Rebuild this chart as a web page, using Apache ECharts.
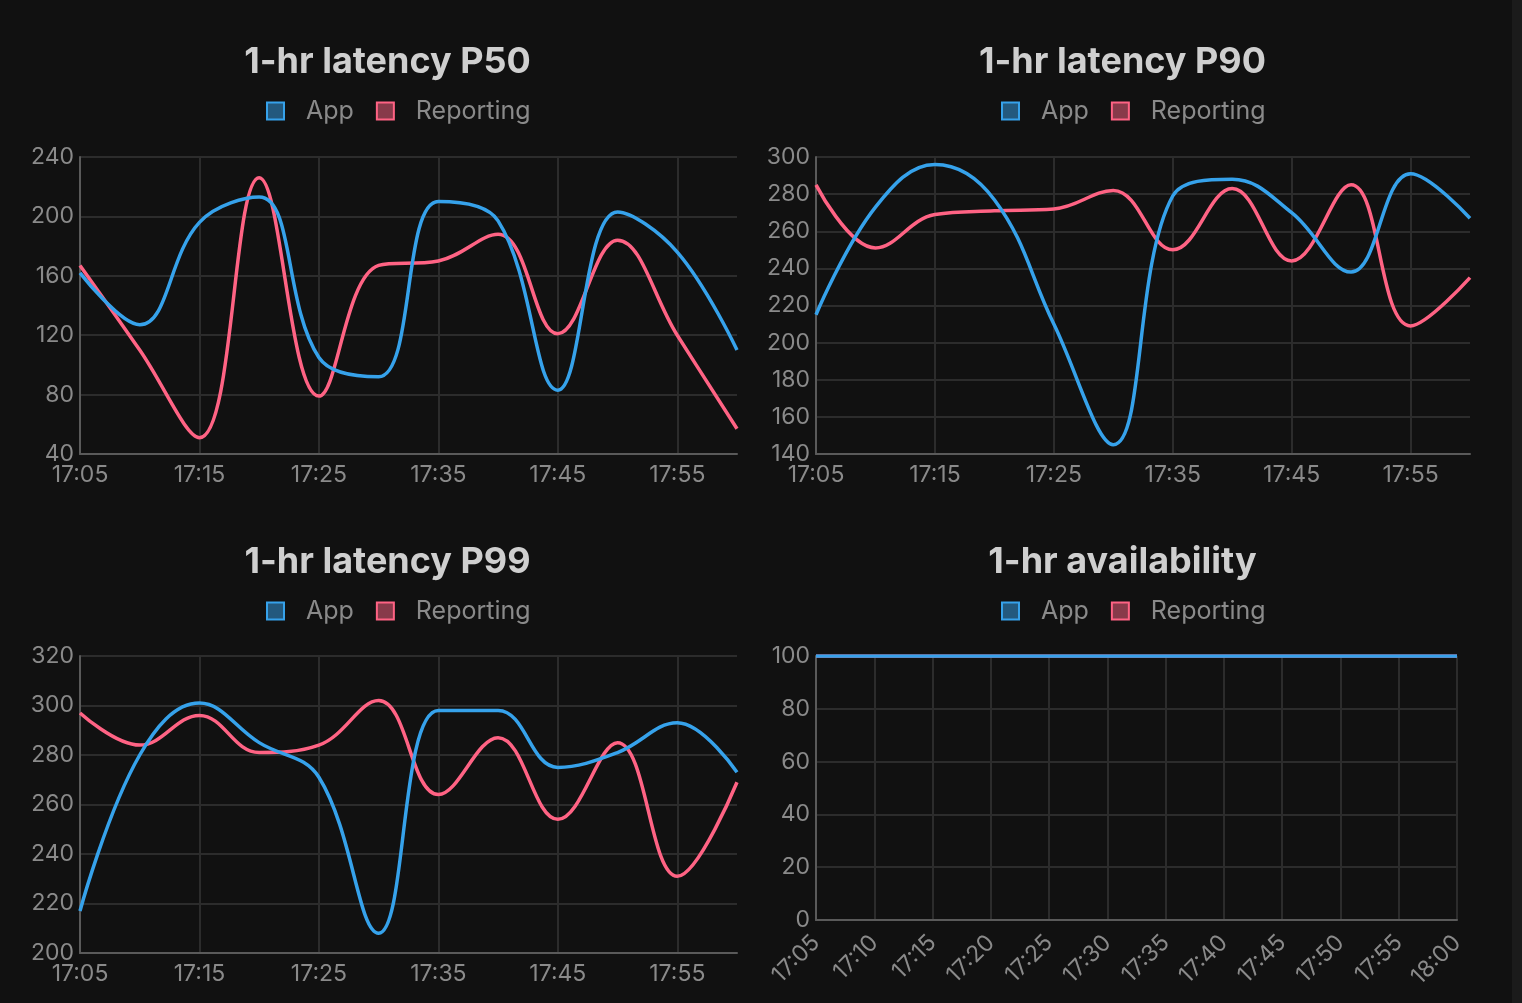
<!DOCTYPE html>
<html>
<head>
<meta charset="utf-8">
<title>Latency dashboard</title>
<script src="https://cdn.jsdelivr.net/npm/echarts@6/dist/echarts.min.js"></script>
<style>
  html, body { margin: 0; padding: 0; background: #111111; width: 1522px; height: 1003px; overflow: hidden; }
  .panel { position: absolute; width: 735px; height: 500px; }
  #scroll { position: absolute; left: 1512px; top: 0; width: 10px; height: 1003px; background: #1b1b1b; }
</style>
</head>
<body>
<div class="panel" id="p50" style="left:20px;top:0px"></div>
<div class="panel" id="p90" style="left:755px;top:0px"></div>
<div class="panel" id="p99" style="left:20px;top:500px"></div>
<div class="panel" id="avail" style="left:755px;top:500px"></div>
<div id="scroll"></div>
<script>
var times = ['17:05', '17:10', '17:15', '17:20', '17:25', '17:30',
  '17:35', '17:40', '17:45', '17:50', '17:55', '18:00'];

var p50App = [162, 127, 196, 213, 105, 92, 210, 197, 83, 203, 176, 110];
var p50Reporting = [167, 110, 51, 226, 79, 167, 170, 188, 121, 184, 120, 57];

var p90App = [215, 273, 296, 277, 210, 145, 279, 288, 270, 238, 291, 267];
var p90Reporting = [285, 251, 269, 271, 272, 282, 250, 283, 244, 285, 209, 235];

var p99App = [217, 280, 301, 285, 271, 208, 298, 298, 275, 281, 293, 273];
var p99Reporting = [297, 284, 296, 281, 284, 302, 264, 287, 254, 285, 231, 269];

var availApp = [100, 100, 100, 100, 100, 100, 100, 100, 100, 100, 100, 100];
var availReporting = [100, 100, 100, 100, 100, 100, 100, 100, 100, 100, 100, 100];

var BLUE = '#36a2eb';
var PINK = '#ff6384';
var FONT = 'Inter, "Liberation Sans", sans-serif';

function makeChart(id, title, app, reporting, yMin, yMax, yStep, opts) {
  var chart = echarts.init(document.getElementById(id), null, { renderer: 'canvas' });
  var option = {
    backgroundColor: '#111111',
    animation: false,
    title: {
      text: title,
      left: 'center',
      top: opts.titleTop,
      padding: 0,
      textStyle: { color: '#cfcfcf', fontFamily: FONT, fontWeight: 'bold', fontSize: 36, lineHeight: 38 }
    },
    legend: {
      left: 246,
      top: opts.legendTop,
      padding: 0,
      icon: 'rect',
      itemWidth: 17,
      itemHeight: 17,
      itemGap: 22,
      textStyle: { color: '#8a8a8a', fontFamily: FONT, fontSize: 25, lineHeight: 26, padding: [0, 0, 0, 17] },
      data: [
        { name: 'App', itemStyle: { color: 'rgba(54,162,235,0.5)', borderColor: BLUE, borderWidth: 2 } },
        { name: 'Reporting', itemStyle: { color: 'rgba(255,99,132,0.5)', borderColor: PINK, borderWidth: 2 } }
      ]
    },
    grid: { left: opts.left, top: opts.top, width: opts.width, height: opts.height, containLabel: false },
    xAxis: {
      type: 'category',
      data: times,
      boundaryGap: false,
      axisLine: { lineStyle: { color: '#5a5a5a', width: 2 } },
      axisTick: { show: false },
      axisLabel: {
        interval: opts.labelInterval,
        rotate: opts.rotate,
        margin: opts.rotate ? 19 : 10,
        color: '#8a8a8a',
        fontFamily: FONT,
        fontSize: 23
      },
      splitLine: { show: true, interval: opts.labelInterval, lineStyle: { color: '#2c2c2c', width: 2 } }
    },
    yAxis: {
      type: 'value',
      min: yMin,
      max: yMax,
      interval: yStep,
      axisLine: { show: true, lineStyle: { color: '#5a5a5a', width: 2 } },
      axisTick: { show: false },
      axisLabel: { margin: 6, color: '#8a8a8a', fontFamily: FONT, fontSize: 23 },
      splitLine: { lineStyle: { color: '#2c2c2c', width: 2 } }
    },
    series: [
      {
        name: 'Reporting',
        type: 'line',
        data: reporting,
        smooth: 0.4,
        showSymbol: false,
        z: 2,
        itemStyle: { color: PINK },
        lineStyle: { color: PINK, width: 3.5 }
      },
      {
        name: 'App',
        type: 'line',
        data: app,
        smooth: 0.4,
        showSymbol: false,
        z: opts.appZ,
        itemStyle: { color: BLUE },
        lineStyle: { color: BLUE, width: 3.5 }
      }
    ]
  };
  chart.setOption(option);
  return chart;
}

makeChart('p50', '1-hr latency P50', p50App, p50Reporting, 40, 240, 40,
  { titleTop: 43, legendTop: 98, left: 60, top: 157, width: 657, height: 297, labelInterval: 1, rotate: 0, appZ: 2 });
makeChart('p90', '1-hr latency P90', p90App, p90Reporting, 140, 300, 20,
  { titleTop: 43, legendTop: 98, left: 61, top: 157, width: 654, height: 297, labelInterval: 1, rotate: 0, appZ: 2 });
makeChart('p99', '1-hr latency P99', p99App, p99Reporting, 200, 320, 20,
  { titleTop: 43, legendTop: 98, left: 60, top: 156, width: 657, height: 297, labelInterval: 1, rotate: 0, appZ: 2 });
makeChart('avail', '1-hr availability', availApp, availReporting, 0, 100, 20,
  { titleTop: 43, legendTop: 98, left: 61, top: 156, width: 641, height: 264, labelInterval: 0, rotate: 45, appZ: 3 });
</script>
</body>
</html>
